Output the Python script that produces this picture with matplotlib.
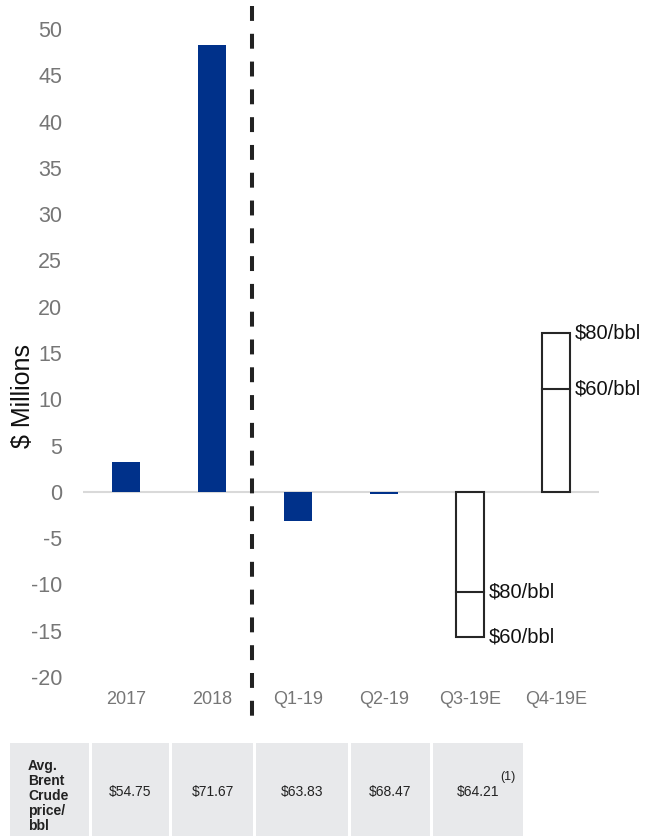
import matplotlib
matplotlib.use("Agg")
import matplotlib.pyplot as plt
from matplotlib.patches import Rectangle

plt.rcParams['font.family'] = ['Liberation Sans', 'DejaVu Sans']
plt.rcParams['axes.unicode_minus'] = False

# quarterly / annual results, $ millions
periods = ['2017', '2018', 'Q1-19', 'Q2-19', 'Q3-19E', 'Q4-19E']
actual = [3.2, 48.3, -3.2, -0.2]          # 2017 .. Q2-19
est_60 = [-15.7, 11.1]                    # Q3-19E, Q4-19E at $60/bbl
est_80 = [-10.8, 17.2]                    # Q3-19E, Q4-19E at $80/bbl
brent = [54.75, 71.67, 63.83, 68.47, 64.21]   # avg Brent crude, 2017 .. Q3-19E

W, H = 646, 836
fig = plt.figure(figsize=(W / 100, H / 100), dpi=100)
ax = fig.add_axes([83 / W, 1 - 677 / H, 516 / W, 648 / H])

navy = '#00318a'
bw = 0.315
x = list(range(len(periods)))

ax.axhline(0, color='#d9d9d9', lw=1.5, zorder=1)
ax.bar(x[:len(actual)], actual, width=bw, color=navy, zorder=2)

# estimate ranges: open boxes with a divider at the inner price case
for i, (lo, hi) in enumerate(zip(est_60, est_80)):
    xi = x[len(actual) + i]
    top = max(lo, hi, key=abs)
    mid = min(lo, hi, key=abs)
    ax.bar(xi, top, width=bw, fill=False, edgecolor='#262626', lw=1.5, zorder=3)
    ax.plot([xi - bw / 2, xi + bw / 2], [mid, mid], color='#262626', lw=1.5, zorder=3)
    for val, lab in ((lo, '$60/bbl'), (hi, '$80/bbl')):
        ax.annotate(lab, (xi + bw / 2, val), xytext=(3.5, 0), textcoords='offset points',
                    va='center', ha='left', fontsize=14.5, color='#111111')

# divider between annual and quarterly figures
ax.plot([1.46, 1.46], [52.5, -24.8], color='#222222', lw=2.9,
        linestyle=(0, (3.7, 3.2)), clip_on=False, zorder=4)

ax.set_xlim(-0.5, 5.5)
ax.set_ylim(-20, 50)
ax.set_yticks(range(-20, 51, 5))
ax.set_xticks(x)
ax.set_xticklabels(periods)
ax.tick_params(axis='y', length=0, pad=15, labelsize=15.5, labelcolor='#767676')
ax.tick_params(axis='x', length=0, pad=10, labelsize=13, labelcolor='#767676')
for s in ax.spines.values():
    s.set_visible(False)

fig.text(23 / W, 1 - 396 / H, '$ Millions', rotation=90, ha='center', va='center',
         fontsize=18, color='#111111')

# Brent price table under the chart
tab = fig.add_axes([0, 0, 1, 1], zorder=-1)
tab.set_xlim(0, W)
tab.set_ylim(H, 0)
tab.axis('off')
cells = [(10, 89), (92, 169), (172, 253), (256, 348), (351, 430), (433, 523)]
for x0, x1 in cells:
    tab.add_patch(Rectangle((x0, 743), x1 - x0, H - 743, color='#e8e9eb', lw=0))
tab.text(28, 796, 'Avg.\nBrent\nCrude\nprice/\nbbl', ha='left', va='center',
         fontsize=10, fontweight='bold', color='#222222', linespacing=1.08)
for (x0, x1), p in zip(cells[1:], brent):
    tab.text((x0 + x1) / 2, 792, f'${p:.2f}', ha='center', va='center',
             fontsize=10, color='#222222')
tab.text(508, 777, '(1)', ha='center', va='center', fontsize=9, color='#222222')

fig.savefig('out.png', dpi=100)
